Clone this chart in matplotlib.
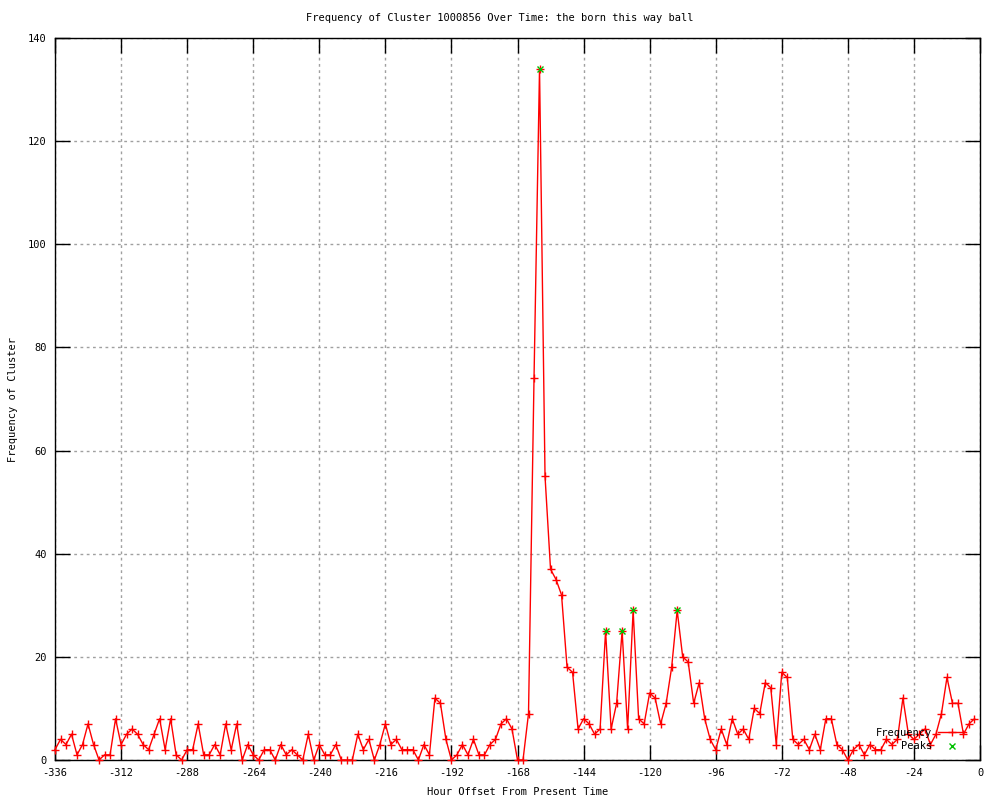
import numpy as np
import matplotlib
matplotlib.use('Agg')
import matplotlib.pyplot as plt

# hour offsets, one reading every two hours
hours = np.arange(-336, 0, 2)
frequency = [
    2, 4, 3, 5, 1, 3, 7, 3, 0, 1, 1, 8, 3, 5, 6, 5, 3, 2, 5, 8,
    2, 8, 1, 0, 2, 2, 7, 1, 1, 3, 1, 7, 2, 7, 0, 3, 1, 0, 2, 2,
    0, 3, 1, 2, 1, 0, 5, 0, 3, 1, 1, 3, 0, 0, 0, 5, 2, 4, 0, 3,
    7, 3, 4, 2, 2, 2, 0, 3, 1, 12, 11, 4, 0, 1, 3, 1, 4, 1, 1, 3,
    4, 7, 8, 6, 0, 0, 9, 74, 134, 55, 37, 35, 32, 18, 17, 6, 8, 7, 5, 6,
    25, 6, 11, 25, 6, 29, 8, 7, 13, 12, 7, 11, 18, 29, 20, 19, 11, 15, 8, 4,
    2, 6, 3, 8, 5, 6, 4, 10, 9, 15, 14, 3, 17, 16, 4, 3, 4, 2, 5, 2,
    8, 8, 3, 2, 0, 2, 3, 1, 3, 2, 2, 4, 3, 4, 12, 5, 4, 5, 6, 3,
    5, 9, 16, 11, 11, 5, 7, 8,
]
peak_hours = [-160, -136, -130, -126, -110]
peak_values = [134, 25, 25, 29, 29]

x_ticks = list(range(-336, 1, 24))
y_ticks = list(range(0, 141, 20))

plt.rcParams['font.family'] = 'DejaVu Sans Mono'
plt.rcParams['font.size'] = 7.5
plt.rcParams['axes.unicode_minus'] = False

fig = plt.figure(figsize=(10, 8), dpi=100)
ax = fig.add_axes([0.055, 0.05, 0.925, 0.9025])

ax.plot(hours, frequency, color='red', linewidth=1, marker='+',
        markersize=6, markeredgewidth=1, clip_on=False, label='Frequency',
        zorder=3)
ax.plot(peak_hours, peak_values, linestyle='none', color='#00c000',
        marker='x', markersize=5, markeredgewidth=1, label='Peaks', zorder=4)

ax.set_xlim(-336, 0)
ax.set_ylim(0, 140)
ax.set_xticks(x_ticks)
ax.set_yticks(y_ticks)
ax.grid(True, color='#a0a0a0', linestyle=(0, (2, 2.5)), linewidth=1)
ax.set_axisbelow(True)
ax.tick_params(direction='in', length=11, width=1, top=True, right=True,
               labelsize=7.5, pad=6)
for spine in ax.spines.values():
    spine.set_linewidth(1)

ax.set_xlabel('Hour Offset From Present Time', fontsize=7.5)
ax.set_ylabel('Frequency of Cluster', fontsize=7.5)
ax.xaxis.set_label_coords(0.5, -0.038)
ax.yaxis.set_label_coords(-0.04, 0.5)
fig.text(0.5, 0.977, 'Frequency of Cluster 1000856 Over Time: the born this way ball',
         ha='center', va='center', fontsize=7.5)

ax.legend(loc='lower right', bbox_to_anchor=(0.99, 0.005), frameon=False,
          markerfirst=False, handlelength=2.6, borderpad=0, labelspacing=0.3,
          handletextpad=0.6, fontsize=7.5)

fig.savefig('out.png', dpi=100)
